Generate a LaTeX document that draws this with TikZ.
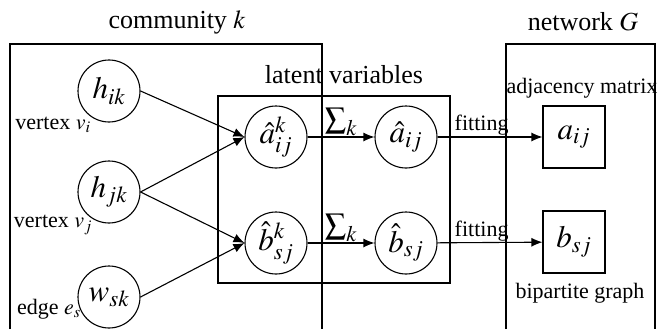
\documentclass[tikz,border=0pt]{standalone}
\usepackage{mathptmx}
\usepackage{fontspec}
\setmainfont{Liberation Serif}
\usetikzlibrary{arrows.meta}
\tikzset{
  >={Latex[length=11pt,width=9pt]},
  every path/.style={line width=1.1pt},
}
\tikzstyle{var}=[draw,circle,minimum size=62pt,inner sep=0pt,font=\fontsize{31}{33}\selectfont]
\tikzstyle{obs}=[draw,rectangle,minimum size=62pt,inner sep=0pt,font=\fontsize{31}{33}\selectfont]
\tikzstyle{title}=[font=\fontsize{26}{28}\selectfont]
\tikzstyle{lbl}=[font=\fontsize{22}{24}\selectfont,inner sep=1pt]
\tikzstyle{sumlbl}=[font=\fontsize{30}{32}\selectfont,inner sep=1pt]
\tikzstyle{flow}=[->]

\begin{document}
\begin{tikzpicture}[x=1pt,y=-1pt]
    \useasboundingbox (0,0) rectangle (660,329);
    % plates
    \draw (10,329) -- (10,44) -- (322,44) -- (322,329);
    \draw (218,96) rectangle (450,283);
    \draw (506,329) -- (506,44) -- (655,44) -- (655,329);
    \node[title] (tcom) at (177,22) {community $k$};
    \node[title] (tlat) at (344,75) {latent variables};
    \node[title] (tnet) at (583,22) {network $G$};
    % community variables
    \node[var] (hi) at (109,91) {$h_{ik}$};
    \node[var] (hj) at (109,192) {$h_{jk}$};
    \node[var] (ws) at (109,297) {$w_{sk}$};
    \node[lbl] (vi) at (53,125) {vertex $v_i$};
    \node[lbl] (vj) at (53,225) {vertex $v_j$};
    \node[lbl] (es) at (49,309) {edge $e_s$};
    % latent variables
    \node[var] (ak) at (276,137) {$\hat a_{ij}^k$};
    \node[var] (bk) at (276,243) {$\hat b_{sj}^k$};
    \node[var] (a) at (406,137) {$\hat a_{ij}$};
    \node[var] (b) at (406,243) {$\hat b_{sj}$};
    % network
    \node[obs] (aobs) at (574,137) {$a_{ij}$};
    \node[obs] (bobs) at (574,242) {$b_{sj}$};
    \node[lbl] (tadj) at (582,88) {adjacency matrix};
    \node[lbl] (tbip) at (580,293) {bipartite graph};
    % edges
    \draw[flow] (hi.east) -- (ak.west);
    \draw[flow] (hj.east) -- (ak.west);
    \draw[flow] (hj.east) -- (bk.west);
    \draw[flow] (ws.east) -- (bk.west);
    \draw[flow] (ak) -- (a) node[midway,above,sumlbl]{$\sum_k$};
    \draw[flow] (bk) -- (b) node[midway,above,sumlbl]{$\sum_k$};
    \draw[flow] (a) -- (aobs) node[pos=.42,above,lbl]{fitting};
    \draw[flow] (b) -- (bobs) node[pos=.42,above,lbl]{fitting};
\end{tikzpicture}
\end{document}
